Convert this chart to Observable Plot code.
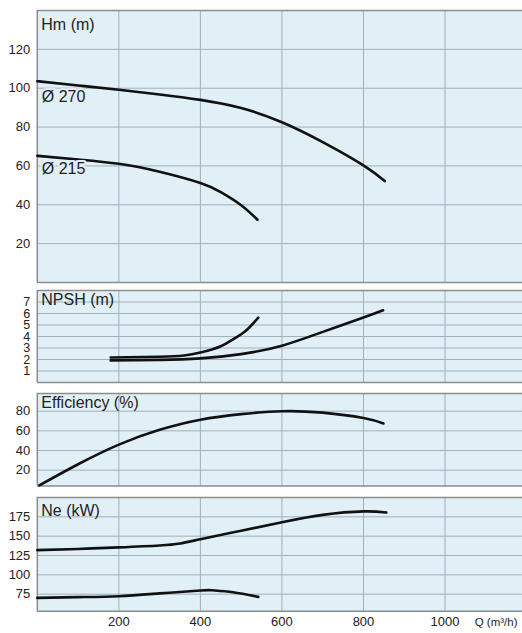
<!DOCTYPE html>
<html><head><meta charset="utf-8">
<script src="https://cdn.jsdelivr.net/npm/d3@7"></script>
<script src="https://cdn.jsdelivr.net/npm/@observablehq/plot@0.6"></script>
<style>
body{margin:0;background:#fff;}
#chart{position:relative;width:522px;height:633px;overflow:hidden;font-family:"Liberation Sans",Arial,sans-serif;}
#chart svg{position:absolute;left:0;background:transparent;}
</style></head><body><div id="chart"></div>
<script>
// ---- data ----
const xTicks = [200, 400, 600, 800, 1000];
const xUnitLabel = "Q (m³/h)";

const hmTitle = "Hm (m)";
const hmTicks = [20, 40, 60, 80, 100, 120];
const curveLabels = ["Ø 270", "Ø 215"];
const q270H = [0, 100, 200, 300, 400, 500, 600, 700, 800, 852];
const h270  = [103.6, 101.4, 99.2, 96.8, 94, 89.8, 82.5, 72.3, 60.3, 52.2];
const q215H = [0, 100, 200, 300, 400, 450, 500, 540];
const h215  = [65.2, 63.3, 61.1, 57.0, 51.2, 46.5, 39.8, 32.3];

const npshTitle = "NPSH (m)";
const npshTicks = [1, 2, 3, 4, 5, 6, 7];
const qNpshA = [180, 300, 360, 400, 450, 482, 510, 542];
const npshA  = [2.18, 2.24, 2.35, 2.6, 3.15, 3.8, 4.45, 5.64];
const qNpshB = [180, 300, 400, 500, 600, 700, 800, 848];
const npshB  = [1.92, 1.97, 2.1, 2.47, 3.2, 4.4, 5.65, 6.28];

const effTitle = "Efficiency (%)";
const effTicks = [20, 40, 60, 80];
const qEff = [5, 100, 200, 300, 400, 500, 600, 700, 800, 849];
const eff  = [4.5, 26, 46, 61, 71.3, 77, 80, 78.5, 73, 67.5];

const neTitle = "Ne (kW)";
const neTicks = [75, 100, 125, 150, 175];
const qNe1 = [0, 100, 200, 300, 350, 400, 500, 600, 700, 800, 856];
const ne1  = [132, 133.5, 135.5, 138, 140.6, 146, 157, 168, 177.5, 182, 180.5];
const qNe2 = [0, 100, 200, 300, 400, 430, 480, 542];
const ne2  = [70.2, 71.2, 72.4, 76, 79.8, 80, 77.5, 71.5];

// ---- styles ----
const BG = "#e1eff7", GRID = "#a3afb9", BORDER = "#8a8d90", INK = "#222", LINE = "#111";
const FONT = '"Liberation Sans", Arial, sans-serif';
const zip = (xs, ys) => xs.map((x, i) => ({x, y: ys[i]}));

function panel({top, mt, plotH, mb, yDomain, yTicks, series, title, titleDy, extra = [], xAxis = false, tickFont = 13}) {
  const marks = [
    Plot.frame({fill: BG, stroke: null}),
    Plot.gridX(xTicks, {stroke: GRID, strokeOpacity: 1, strokeWidth: 1}),
    Plot.gridY(yTicks, {stroke: GRID, strokeOpacity: 1, strokeWidth: 1}),
    Plot.ruleY(yDomain, {stroke: BORDER, strokeWidth: 1.5}),
    Plot.ruleX([0], {stroke: BORDER, strokeWidth: 1.5}),
    Plot.axisY(yTicks, {tickSize: 0, tickPadding: 7, fontSize: tickFont, fill: INK, label: null}),
    ...series.map(s => Plot.line(s, {x: "x", y: "y", stroke: LINE, strokeWidth: 2.6, curve: "natural"})),
    ...extra,
    Plot.text([title], {frameAnchor: "top-left", dx: 4, dy: titleDy, lineAnchor: "top", textAnchor: "start", fontSize: 16, fill: INK})
  ];
  if (xAxis) {
    marks.push(Plot.axisX(xTicks, {tickSize: 0, tickPadding: 6, fontSize: 13, fill: INK, label: null, tickFormat: d => String(d)}));
    marks.push(Plot.text([xUnitLabel], {frameAnchor: "bottom-right", textAnchor: "end", lineAnchor: "middle", dx: -5, dy: 11, fontSize: 11.5, fill: INK}));
  }
  const svg = Plot.plot({
    width: 522, height: mt + plotH + mb,
    marginLeft: 36.8, marginRight: 0, marginTop: mt, marginBottom: mb,
    style: {background: "transparent", fontFamily: FONT, color: INK},
    x: {domain: [0, 1190], axis: null},
    y: {domain: yDomain, axis: null},
    marks
  });
  svg.style.top = top + "px";
  document.getElementById("chart").appendChild(svg);
}

const s270 = zip(q270H, h270), s215 = zip(q215H, h215);
const labelData = [
  {x: q270H[0], y: h270[0], label: curveLabels[0], dy: 9},
  {x: q215H[0], y: h215[0], label: curveLabels[1], dy: 6.5}
];

panel({top: 0, mt: 10, plotH: 272, mb: 4, yDomain: [0, 140], yTicks: hmTicks,
  series: [s270, s215], title: hmTitle, titleDy: 8.3,
  extra: labelData.map(d => Plot.text([d], {x: "x", y: "y", text: "label", dx: 4.5, dy: d.dy, lineAnchor: "top", textAnchor: "start", fontSize: 16, fill: INK, stroke: BG, strokeWidth: 4, paintOrder: "stroke"}))});

panel({top: 286, mt: 4, plotH: 92, mb: 4, yDomain: [0, 8], yTicks: npshTicks, tickFont: 12.5,
  series: [zip(qNpshA, npshA), zip(qNpshB, npshB)], title: npshTitle, titleDy: 3.3});

panel({top: 389.3, mt: 4, plotH: 92.4, mb: 4, yDomain: [4, 98], yTicks: effTicks,
  series: [zip(qEff, eff)], title: effTitle, titleDy: 2.7});

panel({top: 493.3, mt: 4, plotH: 113.7, mb: 22, yDomain: [53, 200], yTicks: neTicks,
  series: [zip(qNe1, ne1), zip(qNe2, ne2)], title: neTitle, titleDy: 6.7, xAxis: true});
</script></body></html>
